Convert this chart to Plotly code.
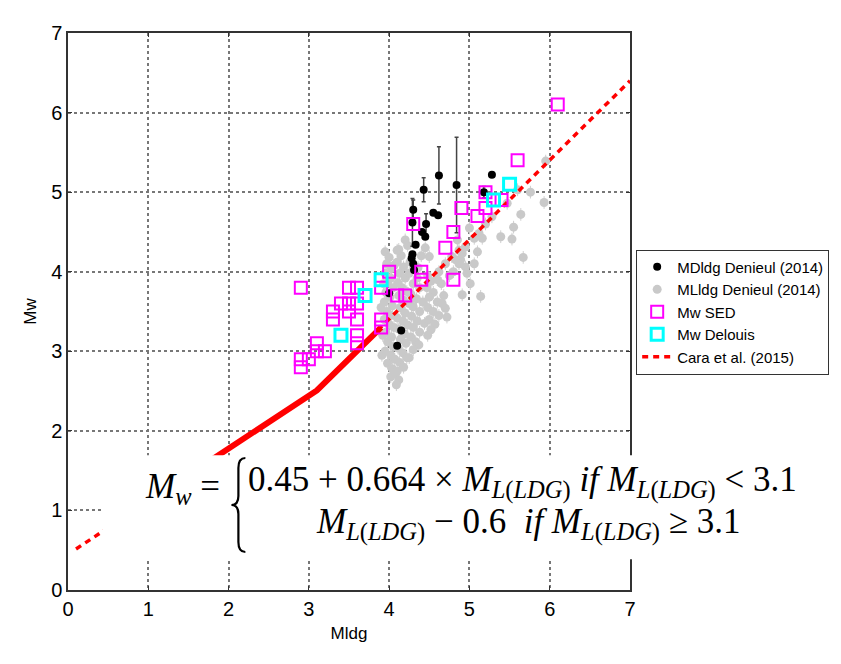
import plotly.graph_objects as go

# ---------------- data ----------------
md_x = [4.62, 4.84, 4.43, 4.30, 4.55, 4.61, 4.29, 4.46, 4.41, 4.45, 4.33, 4.29, 4.28, 4.30, 4.31, 5.28, 5.18, 4.15, 4.10, 4.00]
md_y = [5.21, 5.09, 5.03, 4.78, 4.74, 4.71, 4.62, 4.60, 4.50, 4.44, 4.34, 4.22, 4.17, 4.10, 4.02, 5.22, 5.00, 3.26, 3.07, 3.73]
md_err = [0.36, 0.60, 0.15, 0.12, 0.0, 0.0, 0.30, 0.13, 0.0, 0.0, 0.0, 0.0, 0.0, 0.0, 0.0, 0.0, 0.07, 0.0, 0.0, 0.0]

ml_pts = [
    (3.95, 4.25), (4.00, 4.18), (3.97, 4.10), (4.03, 4.04), (3.95, 3.98), (4.02, 3.92), (3.98, 3.86),
    (4.05, 3.80), (3.96, 3.74), (4.01, 3.68), (3.94, 3.62), (4.04, 3.57), (3.97, 3.50), (4.02, 3.45),
    (3.94, 3.40), (4.00, 3.34), (4.06, 3.30), (3.96, 3.24), (4.03, 3.18), (3.98, 3.12), (4.05, 3.06),
    (3.95, 3.00), (4.02, 2.95), (4.07, 2.90), (3.98, 2.85), (4.04, 2.78), (4.08, 2.72), (4.02, 2.68),
    (4.12, 2.64), (4.10, 2.75),
    (4.12, 4.28), (4.15, 4.20), (4.10, 4.12), (4.18, 4.06), (4.13, 3.98), (4.20, 3.92), (4.11, 3.86),
    (4.16, 3.80), (4.22, 3.75), (4.12, 3.70), (4.18, 3.64), (4.25, 3.60), (4.14, 3.55), (4.20, 3.48),
    (4.10, 3.42), (4.17, 3.38), (4.23, 3.33), (4.12, 3.28), (4.19, 3.22), (4.14, 3.15), (4.21, 3.10),
    (4.11, 3.04), (4.17, 2.98), (4.22, 2.92), (4.13, 2.86), (4.18, 2.80), (4.09, 2.58),
    (4.26, 4.12), (4.36, 4.05), (4.25, 3.98), (4.35, 3.92), (4.30, 3.85), (4.38, 3.80), (4.27, 3.72),
    (4.34, 3.66), (4.42, 3.62), (4.30, 3.56), (4.38, 3.50), (4.28, 3.44), (4.35, 3.38), (4.44, 3.35),
    (4.30, 3.30), (4.38, 3.24), (4.27, 3.18), (4.33, 3.12), (4.37, 3.08), (4.30, 3.02), (4.25, 2.92),
    (4.48, 3.95), (4.52, 3.88), (4.47, 3.80), (4.55, 3.74), (4.50, 3.68), (4.60, 3.62), (4.48, 3.55),
    (4.55, 3.50), (4.62, 3.45), (4.50, 3.40), (4.57, 3.34), (4.52, 3.27), (4.48, 3.20), (4.72, 3.43),
    (4.70, 3.54), (4.65, 3.85), (4.75, 3.95), (4.80, 4.00), (4.68, 3.70), (4.60, 3.90), (4.66, 3.60),
    (4.62, 4.00), (4.70, 4.10), (4.78, 4.19), (4.87, 4.27), (4.95, 4.31), (4.89, 4.15), (4.95, 4.06),
    (4.83, 4.15), (4.91, 4.23), (4.50, 4.19), (4.87, 4.10), (4.97, 3.98), (5.01, 3.85), (5.06, 4.10),
    (4.91, 3.71), (5.14, 3.69), (5.10, 4.25), (5.16, 4.42), (5.06, 4.42), (5.12, 4.48), (5.28, 4.69),
    (5.39, 4.44), (5.53, 4.41), (5.55, 4.56), (5.64, 4.72), (5.47, 4.86), (5.60, 5.03), (5.76, 5.00),
    (5.93, 4.87), (5.95, 5.39), (5.67, 4.18), (4.40, 4.20), (4.23, 4.33), (4.10, 4.27), (4.06, 4.08),
    (4.20, 4.40), (4.45, 4.30), (5.20, 4.60), (5.00, 4.55), (4.85, 4.40),
    (3.90, 3.55), (3.92, 3.20), (3.91, 2.95), (3.93, 3.85),
]
ml_x = [p[0] for p in ml_pts]
ml_y = [p[1] for p in ml_pts]
ml_err = 0.08

sed_x = [6.1, 5.6, 4.9, 5.2, 5.4, 5.2, 5.1, 4.8, 4.7, 4.8, 4.3, 4.4, 4.0, 4.4, 4.1, 4.2, 3.9, 2.9,
         3.5, 3.6, 3.4, 3.5, 3.6, 3.3, 3.5, 3.3, 3.6, 3.6, 3.6, 3.9, 3.9, 3.1, 3.1, 3.2, 2.9, 3.0, 2.9]
sed_y = [6.1, 5.4, 4.8, 5.0, 4.9, 4.8, 4.7, 4.5, 4.3, 3.9, 4.6, 4.0, 4.0, 3.9, 3.7, 3.7, 3.8, 3.8,
         3.8, 3.8, 3.6, 3.6, 3.6, 3.5, 3.5, 3.4, 3.4, 3.2, 3.1, 3.4, 3.3, 3.1, 3.0, 3.0, 2.9, 2.9, 2.8]

del_x = [5.5, 5.3, 3.9, 3.7, 3.4]
del_y = [5.1, 4.9, 3.9, 3.7, 3.2]

cara_x = [0.1, 3.1, 7.0]
cara_y = [0.516, 2.508, 6.4]
cara_solid_x = [1.5, 3.1, 3.9]
cara_solid_y = [1.446, 2.508, 3.3]

# ---------------- figure ----------------
fig = go.Figure()

fig.add_trace(go.Scatter(
    x=ml_x, y=ml_y, mode="markers", name="MLldg Denieul (2014)", legendrank=2,
    marker=dict(color="#c9c9c9", size=9),
    error_y=dict(type="constant", value=ml_err, color="#cfcfcf", thickness=1, width=0),
))
fig.add_trace(go.Scatter(
    x=md_x, y=md_y, mode="markers", name="MDldg Denieul (2014)", legendrank=1,
    marker=dict(color="black", size=8),
    error_y=dict(type="data", array=md_err, color="#444444", thickness=1.5, width=2),
))
fig.add_trace(go.Scatter(
    x=cara_solid_x, y=cara_solid_y, mode="lines", showlegend=False,
    line=dict(color="#ff0000", width=6),
))
fig.add_trace(go.Scatter(
    x=cara_x, y=cara_y, mode="lines", name="Cara et al. (2015)", legendrank=5,
    line=dict(color="#ff0000", width=3.5, dash="6px,5px"),
))
fig.add_trace(go.Scatter(
    x=sed_x, y=sed_y, mode="markers", name="Mw SED", legendrank=3,
    marker=dict(symbol="square-open", color="#ff00ff", size=12, line=dict(width=2, color="#ff00ff")),
))
fig.add_trace(go.Scatter(
    x=del_x, y=del_y, mode="markers", name="Mw Delouis", legendrank=4,
    marker=dict(symbol="square-open", color="#00ffff", size=12, line=dict(width=3, color="#00ffff")),
))

axis_common = dict(
    range=[0, 7], dtick=1, tick0=0,
    showgrid=True, gridcolor="#777777", griddash="dot", gridwidth=1.5,
    zeroline=False, showline=True, linecolor="#333333", linewidth=1.5, mirror="ticks",
    ticks="inside", ticklen=4, tickcolor="#333333",
    tickfont=dict(family="Liberation Sans, Arial, sans-serif", size=20, color="black"),
)
title_font = dict(family="Liberation Sans, Arial", size=17, color="black")
fig.update_xaxes(**axis_common, title=dict(text="Mldg", font=title_font, standoff=8))
fig.update_yaxes(**axis_common, title=dict(text="Mw", font=title_font, standoff=10))

# white panel behind the equation
fig.add_shape(type="rect", xref="paper", yref="paper", x0=0.062, x1=1.30, y0=0.055, y1=0.242,
              fillcolor="white", line=dict(width=0), layer="above")
# curly brace of the piecewise definition
fig.add_shape(type="path", xref="paper", yref="paper", layer="above",
              path=("M 0.3156,0.2370 Q 0.3032,0.2370 0.3032,0.2190 L 0.3032,0.1688 "
                    "Q 0.3032,0.1526 0.2908,0.1526 Q 0.3032,0.1526 0.3032,0.1364 "
                    "L 0.3032,0.0862 Q 0.3032,0.0682 0.3156,0.0682"),
              line=dict(color="black", width=2.2))

eq_font = dict(family="Liberation Serif, DejaVu Serif, serif", size=35, color="black")
sub = "<sub><i>L</i>(<i>LDG</i>)</sub>"
fig.add_annotation(xref="paper", yref="paper", x=0.204, y=0.183, showarrow=False,
                   text="<i>M</i><sub><i>w</i></sub> =", font=eq_font, xanchor="center", yanchor="middle")
fig.add_annotation(xref="paper", yref="paper", x=0.316, y=0.194, showarrow=False,
                   text="0.45 + 0.664 × <i>M</i>" + sub + " <i>if M</i>" + sub + " &lt; 3.1",
                   font=eq_font, xanchor="left", yanchor="middle")
fig.add_annotation(xref="paper", yref="paper", x=0.819, y=0.118, showarrow=False,
                   text="<i>M</i>" + sub + " − 0.6  <i>if M</i>" + sub + " ≥ 3.1",
                   font=eq_font, xanchor="center", yanchor="middle")

fig.update_layout(
    width=841, height=664,
    margin=dict(l=68, r=209, t=33, b=74),
    paper_bgcolor="white", plot_bgcolor="white",
    font=dict(family="Liberation Sans, Arial, sans-serif", color="black"),
    legend=dict(x=1.011, y=0.499, xanchor="left", yanchor="middle",
                bordercolor="#333333", borderwidth=1, bgcolor="white",
                font=dict(size=15, family="Liberation Sans, Arial, sans-serif"),
                tracegroupgap=0, itemwidth=30),
    showlegend=True,
)

fig.write_html("out.html")
